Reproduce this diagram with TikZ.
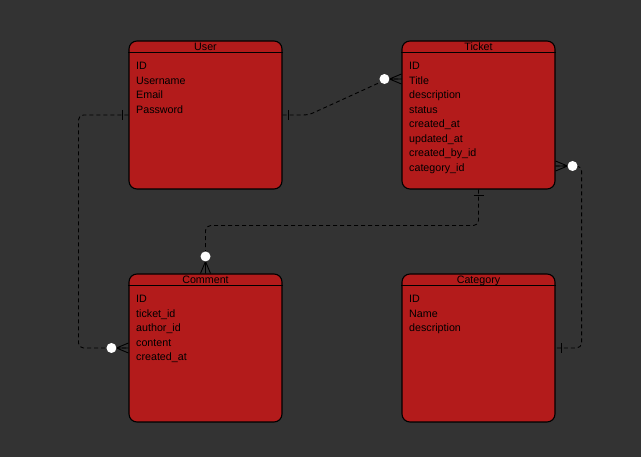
\documentclass[tikz,border=0pt]{standalone}
\usepackage{fontspec}
\setmainfont{Liberation Sans}
\usetikzlibrary{positioning}

\definecolor{bgdark}{HTML}{333333}
\definecolor{tablered}{HTML}{B31B1B}

\tikzset{
  entity/.style={draw=black, fill=tablered, line width=1.1pt, rounded corners=8pt,
    minimum width=153pt, minimum height=148pt, inner sep=0pt},
  header/.style={anchor=base, inner sep=0pt, font=\fontsize{10.7}{12}\selectfont},
  field/.style={anchor=base west, inner sep=0pt, font=\fontsize{10.7}{12}\selectfont},
  rel/.style={draw=black, line width=0.9pt, dash pattern=on 4pt off 3pt, rounded corners=5pt},
  many/.pic={
    \draw[line width=0.9pt] (0,-5) -- (-12,0) -- (0,5) (0,0) -- (-12,0);
    \fill[white] (-17,0) circle (5pt);
  },
  one/.pic={
    \draw[line width=0.9pt] (-6,-5) -- (-6,5);
  }
}

\begin{document}
\begin{tikzpicture}[x=1pt,y=-1pt]
\useasboundingbox (0,0) rectangle (641,457);
\fill[bgdark] (0,0) rectangle (641,457);

\node[entity] (user) at (205.5,115) {};
\node[entity] (ticket) at (478.5,115) {};
\node[entity] (comment) at (205.5,348) {};
\node[entity] (category) at (478.5,348) {};

\draw[line width=1.1pt] ([yshift=-12pt]user.north west) -- ([yshift=-12pt]user.north east);
\draw[line width=1.1pt] ([yshift=-12pt]ticket.north west) -- ([yshift=-12pt]ticket.north east);
\draw[line width=1.1pt] ([yshift=-12pt]comment.north west) -- ([yshift=-12pt]comment.north east);
\draw[line width=1.1pt] ([yshift=-12pt]category.north west) -- ([yshift=-12pt]category.north east);

% relations
\draw[rel] (user.east) -- ++(26,0) -- ([xshift=-14pt,yshift=36pt]ticket.west) -- ([yshift=36pt]ticket.west);
\draw[rel] (user.west) -- ++(-50,0) |- (comment.west);
\draw[rel] (ticket.south) -- ++(0,36) -| (comment.north);
\draw[rel] ([yshift=-51pt]ticket.east) -- ++(26,0) |- (category.east);

\pic at (user.east) [rotate=180] {one};
\pic at (user.west) {one};
\pic at (ticket.south) [rotate=90] {one};
\pic at (category.east) [rotate=180] {one};
\pic at ([yshift=36pt]ticket.west) {many};
\pic at ([yshift=-51pt]ticket.east) [rotate=180] {many};
\pic at (comment.north) [rotate=-90] {many};
\pic at (comment.west) {many};

\node[header] (user-title) at ([yshift=-10pt]user.north) {User};
\node[header] (ticket-title) at ([yshift=-10pt]ticket.north) {Ticket};
\node[header] (comment-title) at ([yshift=-10pt]comment.north) {Comment};
\node[header] (category-title) at ([yshift=-10pt]category.north) {Category};

\node[field] (user-id) at (136,70) {ID};
\node[field] (user-username) at (136,84.5) {Username};
\node[field] (user-email) at (136,99) {Email};
\node[field] (user-password) at (136,113.5) {Password};

\node[field] (ticket-id) at (409,70) {ID};
\node[field] (ticket-title-f) at (409,84.5) {Title};
\node[field] (ticket-description) at (409,99) {description};
\node[field] (ticket-status) at (409,113.5) {status};
\node[field] (ticket-created) at (409,128) {created\_at};
\node[field] (ticket-updated) at (409,142.5) {updated\_at};
\node[field] (ticket-createdby) at (409,157) {created\_by\_id};
\node[field] (ticket-category) at (409,171.5) {category\_id};

\node[field] (comment-id) at (136,303) {ID};
\node[field] (comment-ticket) at (136,317.5) {ticket\_id};
\node[field] (comment-author) at (136,332) {author\_id};
\node[field] (comment-content) at (136,346.5) {content};
\node[field] (comment-created) at (136,361) {created\_at};

\node[field] (category-id) at (409,303) {ID};
\node[field] (category-name) at (409,317.5) {Name};
\node[field] (category-description) at (409,332) {description};
\end{tikzpicture}
\end{document}
